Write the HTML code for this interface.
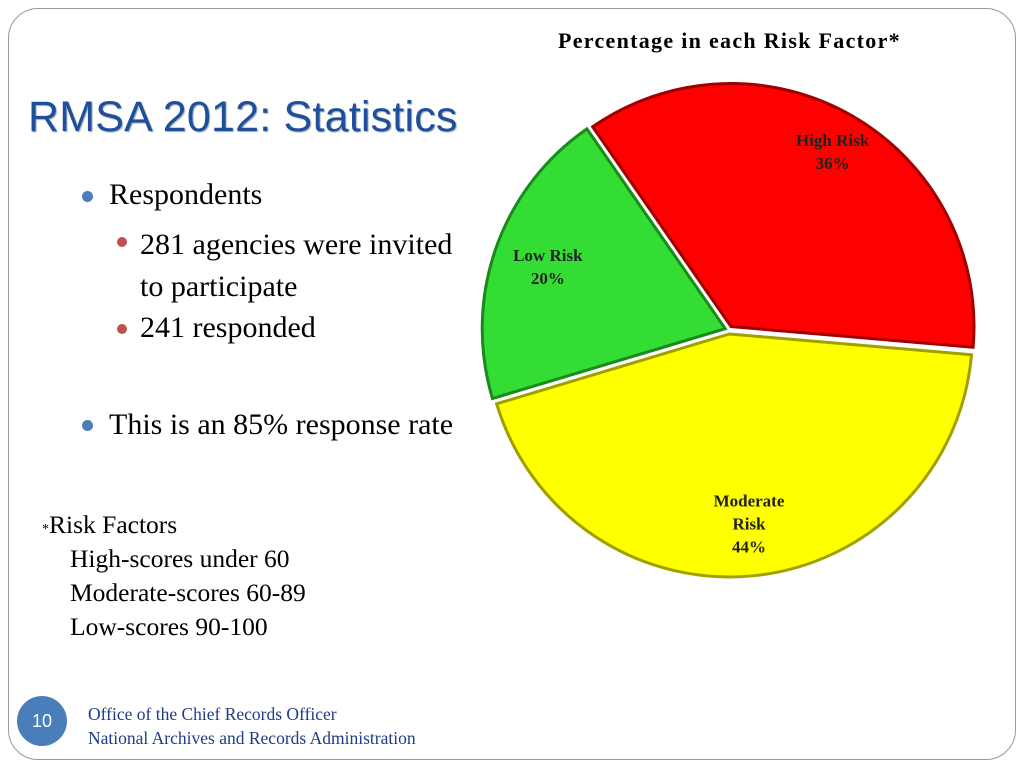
<!DOCTYPE html>
<html><head><meta charset="utf-8"><style>
body{margin:0;width:1024px;height:768px;background:#fff;overflow:hidden;position:relative;font-family:"Liberation Serif",serif}
.t{position:absolute;white-space:nowrap}
.dot{position:absolute;border-radius:50%}
</style></head><body>
<div style="position:absolute;left:8px;top:8px;width:1006px;height:750px;border:1.5px solid #9a9a9a;border-radius:30px"></div>
<div class="t" style="left:28px;top:93px;font-family:'Liberation Sans',sans-serif;font-size:43px;letter-spacing:0.2px;color:#1f4f9a;text-shadow:1px 1px 1px #9ab">RMSA 2012: Statistics</div>
<div class="dot" style="left:82px;top:191px;width:11px;height:11px;background:#4a7ebb"></div>
<div class="t" style="left:109px;top:178px;font-size:30px">Respondents</div>
<div class="dot" style="left:117px;top:237px;width:10px;height:10px;background:#c0504d"></div>
<div class="t" style="left:140px;top:224px;font-size:30px;line-height:42px">281 agencies were invited<br>to participate</div>
<div class="dot" style="left:117px;top:324px;width:10px;height:10px;background:#c0504d"></div>
<div class="t" style="left:140px;top:311px;font-size:30px">241 responded</div>
<div class="dot" style="left:82px;top:420px;width:11px;height:11px;background:#4a7ebb"></div>
<div class="t" style="left:109px;top:408px;font-size:30px">This is an 85% response rate</div>
<div class="t" style="left:42px;top:508px;font-size:25.5px;line-height:34px"><span style="font-size:14px">*</span>Risk Factors</div>
<div class="t" style="left:70px;top:542px;font-size:25.5px;line-height:34px">High-scores under 60<br>Moderate-scores 60-89<br>Low-scores 90-100</div>
<div class="dot" style="left:17px;top:696px;width:50px;height:50px;background:#4a7ebb;color:#fff;font-family:'Liberation Sans',sans-serif;font-size:18px;text-align:center;line-height:50px">10</div>
<div class="t" style="left:88px;top:702px;font-size:17.5px;line-height:24px;color:#1f3c88">Office of the Chief Records Officer<br>National Archives and Records Administration</div>
<div class="t" style="left:558px;top:28px;font-size:22px;letter-spacing:1.3px;font-weight:bold">Percentage in each Risk Factor*</div>
<svg id="pie" width="1024" height="768" style="position:absolute;left:0;top:0"></svg>
<script>
const categories=["High Risk","Moderate Risk","Low Risk"];
const values=[36,44,20];
const labelLines=[["High Risk","36%"],["Moderate","Risk","44%"],["Low Risk","20%"]];
const fills=["#ff0000","#ffff00","#33dd33"];
const strokes=["#a00000","#a0a000","#1a8a1a"];
const svg=document.getElementById('pie');
const NS="http://www.w3.org/2000/svg";
const cx=729,cy=330,r=243,start=-34.7;
const total=values.reduce((a,b)=>a+b,0);
const labelR=[0.85,0.8,0.79];
let a0=start;
function pt(a,rr,ox,oy){const t=a*Math.PI/180;return [ox+rr*Math.sin(t),oy-rr*Math.cos(t)];}
values.forEach((v,i)=>{
  const sw=v/total*360,a1=a0+sw,mid=(a0+a1)/2;
  const [ox,oy]=pt(mid,4,cx,cy);
  const p0=pt(a0,r,ox,oy),p1=pt(a1,r,ox,oy);
  const p=document.createElementNS(NS,'path');
  p.setAttribute('d',`M${ox},${oy}L${p0[0]},${p0[1]}A${r},${r} 0 ${sw>180?1:0} 1 ${p1[0]},${p1[1]}Z`);
  p.setAttribute('fill',fills[i]);p.setAttribute('stroke',strokes[i]);p.setAttribute('stroke-width','3');
  
  
  svg.appendChild(p);
  const lp=pt(mid,r*labelR[i],cx,cy);
  const lines=labelLines[i];
  lines.forEach((s,j)=>{
    const t=document.createElementNS(NS,'text');
    t.setAttribute('x',lp[0]);t.setAttribute('y',lp[1]+(j-(lines.length-1)/2)*23+6);
    t.setAttribute('text-anchor','middle');t.setAttribute('font-family','Liberation Serif, serif');
    t.setAttribute('font-weight','bold');t.setAttribute('font-size','17');t.setAttribute('fill','#222');
    
    
    t.textContent=s;svg.appendChild(t);
  });
  a0=a1;
});
</script>
</body></html>
